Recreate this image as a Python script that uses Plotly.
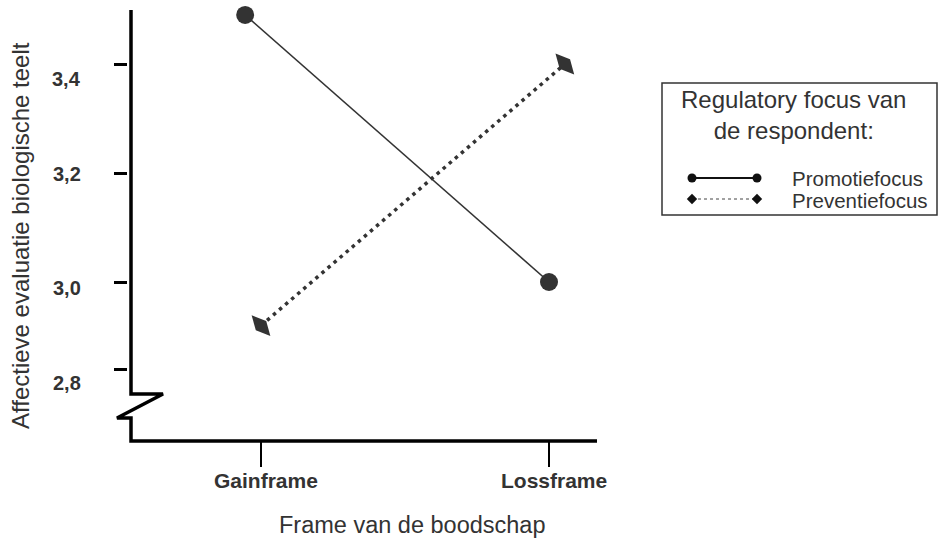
import plotly.graph_objects as go

# ---- data ----
frames = ["Gainframe", "Lossframe"]
frame_pos = [0, 1]
series_names = ["Promotiefocus", "Preventiefocus"]
promotie = [3.49, 3.00]
preventie = [2.92, 3.40]
promotie_dodge = [-0.055, 0.0]
preventie_dodge = [0.0, 0.055]
y_tick_pos = [2.84, 3.0, 3.2, 3.4]          # axis is drawn broken below 3,0
y_tick_text = ["2,8", "3,0", "3,2", "3,4"]
y_label_shift = [-14, -6, -1, -15]

x_title = "Frame van de boodschap"
y_title = "Affectieve evaluatie biologische teelt"
legend_title = "Regulatory focus van<br>de respondent:"

# ---- layout geometry (pixels) ----
W, H = 939, 539
L, R, T, B = 131, 597, 10, 441
xr = [(L - 261) / 288, (R - 261) / 288]
yr = [3.0 - (B - 282) / 545, 3.4 + (64 - T) / 545]

FONT = "Liberation Sans, Arial, sans-serif"
TXT = "#333333"
MARK = "#333333"

fig = go.Figure()

fig.add_trace(go.Scatter(
    x=[p + d for p, d in zip(frame_pos, promotie_dodge)], y=promotie,
    mode="lines+markers", name=series_names[0],
    line=dict(color=MARK, width=1.6),
    marker=dict(symbol="circle", size=18, color=MARK),
    cliponaxis=False, showlegend=False, xaxis="x", yaxis="y"))
fig.add_trace(go.Scatter(
    x=[p + d for p, d in zip(frame_pos, preventie_dodge)], y=preventie,
    mode="lines+markers", name=series_names[1],
    line=dict(color=MARK, width=3.5, dash="3.5px,4.5px"),
    marker=dict(symbol="diamond-tall", size=20, angle=-42, color=MARK),
    cliponaxis=False, showlegend=False, xaxis="x", yaxis="y"))

# legend sample marks on a pixel overlay
fig.add_trace(go.Scatter(
    x=[692, 757], y=[178, 178], mode="lines+markers",
    line=dict(color="#111", width=2), marker=dict(symbol="circle", size=9, color="#111"),
    showlegend=False, xaxis="x2", yaxis="y2", hoverinfo="skip"))
fig.add_trace(go.Scatter(
    x=[692, 757], y=[199, 199], mode="lines+markers",
    line=dict(color="#444", width=1, dash="dot"), marker=dict(symbol="diamond", size=8, color="#111"),
    showlegend=False, xaxis="x2", yaxis="y2", hoverinfo="skip"))

shapes = [
    dict(type="path", xref="x2", yref="y2",
         path=f"M{L},{T} V394 H163 L117,418 H{L} V{B} H{R}",
         line=dict(color="black", width=3.5)),
    dict(type="rect", xref="x2", yref="y2", x0=662, y0=83, x1=937, y1=215,
         line=dict(color="#333", width=1.5)),
]

annotations = []
for v, t, s in zip(y_tick_pos, y_tick_text, y_label_shift):
    annotations.append(dict(xref="x2", yref="y", x=83, y=v, yshift=s, text=t,
                            xanchor="right", yanchor="middle", showarrow=False,
                            font=dict(family=FONT, size=20, color=TXT, weight="bold")))
for p, t in zip(frame_pos, frames):
    annotations.append(dict(xref="x", yref="y2", x=p, y=480, xshift=5, text=t,
                            xanchor="center", yanchor="middle", showarrow=False,
                            font=dict(family=FONT, size=21, color=TXT, weight="bold")))
annotations += [
    dict(xref="x2", yref="y2", x=412, y=525, text=x_title, showarrow=False,
         xanchor="center", yanchor="middle", font=dict(family=FONT, size=23.5, color=TXT)),
    dict(xref="x2", yref="y2", x=20, y=236, text=y_title, showarrow=False, textangle=-90,
         xanchor="center", yanchor="middle", font=dict(family=FONT, size=24, color=TXT)),
    dict(xref="x2", yref="y2", x=793, y=115, text=legend_title, showarrow=False,
         align="center", xanchor="center", yanchor="middle",
         font=dict(family=FONT, size=24, color=TXT)),
    dict(xref="x2", yref="y2", x=790, y=178, text=series_names[0], showarrow=False,
         xanchor="left", yanchor="middle", font=dict(family=FONT, size=20.5, color=TXT)),
    dict(xref="x2", yref="y2", x=790, y=200, text=series_names[1], showarrow=False,
         xanchor="left", yanchor="middle", font=dict(family=FONT, size=20.5, color=TXT)),
]

fig.update_layout(
    template="none",
    width=W, height=H, margin=dict(l=0, r=0, t=0, b=0, pad=0), autosize=False,
    paper_bgcolor="white", plot_bgcolor="rgba(0,0,0,0)",
    font=dict(family=FONT, color=TXT),
    xaxis=dict(domain=[L / W, R / W], range=xr, anchor="y", automargin=False,
               tickvals=frame_pos, showticklabels=False, ticks="outside", ticklen=25,
               tickwidth=2, tickcolor="black", showline=False, showgrid=False,
               zeroline=False, fixedrange=True),
    yaxis=dict(domain=[(H - B) / H, (H - T) / H], range=yr, anchor="free",
               position=127 / W, tickvals=y_tick_pos, showticklabels=False,
               automargin=False,
               ticks="outside", ticklen=13, tickwidth=2.5, tickcolor="black",
               showline=False, showgrid=False, zeroline=False, fixedrange=True),
    xaxis2=dict(domain=[0, 1], range=[0, W], anchor="y2", visible=False,
                fixedrange=True, automargin=False),
    yaxis2=dict(domain=[0, 1], range=[H, 0], anchor="x2", visible=False,
                fixedrange=True, automargin=False),
    shapes=shapes, annotations=annotations, showlegend=False,
)

fig.write_html("out.html", config={"displayModeBar": False},
               post_script="document.body.style.margin='0';document.body.style.overflow='hidden';")
